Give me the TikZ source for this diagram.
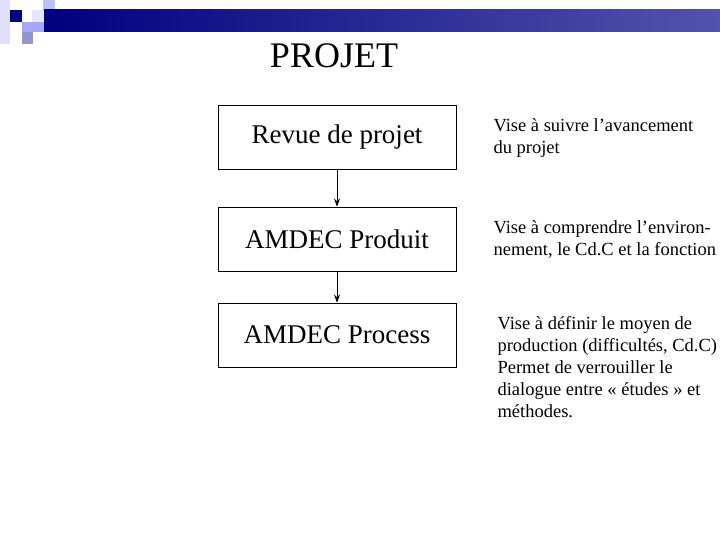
\documentclass[tikz,border=0pt]{standalone}
\usepackage{fontspec}
\setmainfont{Liberation Serif}
\usetikzlibrary{arrows.meta}
\begin{document}
\begin{tikzpicture}[x=1pt,y=-1pt,
  etape/.style={draw, thick, minimum width=238pt, minimum height=64pt, font=\fontsize{27}{30}\selectfont},
  note/.style={anchor=west, align=left, font=\fontsize{18.5}{22}\selectfont}]
	\useasboundingbox (0,0) rectangle (720,540);
	% bandeau
	\fill[blue!12] (0,0) rectangle (10,44);
	\fill[blue!10] (32,10) rectangle (55,22);
	\fill[blue!25] (43,0) rectangle (55,10);
	\fill[blue!35!white] (22,22) rectangle (44,32);
	\fill[blue!40!gray!60] (22,32) rectangle (33,44);
	\fill[blue!50!black] (10,10) rectangle (22,22);
	\shade[left color=blue!50!black, right color=blue!35!gray] (44,10) rectangle (720,32);
	\node[font=\fontsize{36}{38}\selectfont] (titre) at (334,56) {PROJET};

	\node[etape] (revue) at (337,137) {Revue de projet};
	\node[etape] (produit) at (337,239) {AMDEC Produit};
	\node[etape] (process) at (337,335) {AMDEC Process};

	\draw [-{Stealth[length=8pt,width=6pt]}, thick] (revue) -- (produit);
	\draw [-{Stealth[length=8pt,width=6pt]}, thick] (produit) -- (process);

	\node[note] (n1) at (490,138) {Vise à suivre l’avancement\\du projet};
	\node[note] (n2) at (490,239) {Vise à comprendre l’environ-\\nement, le Cd.C et la fonction};
	\node[note, anchor=north west] (n3) at (494,313) {Vise à définir le moyen de\\production (difficultés, Cd.C)\\Permet de verrouiller le\\dialogue entre « études » et\\méthodes.};
\end{tikzpicture}
\end{document}
